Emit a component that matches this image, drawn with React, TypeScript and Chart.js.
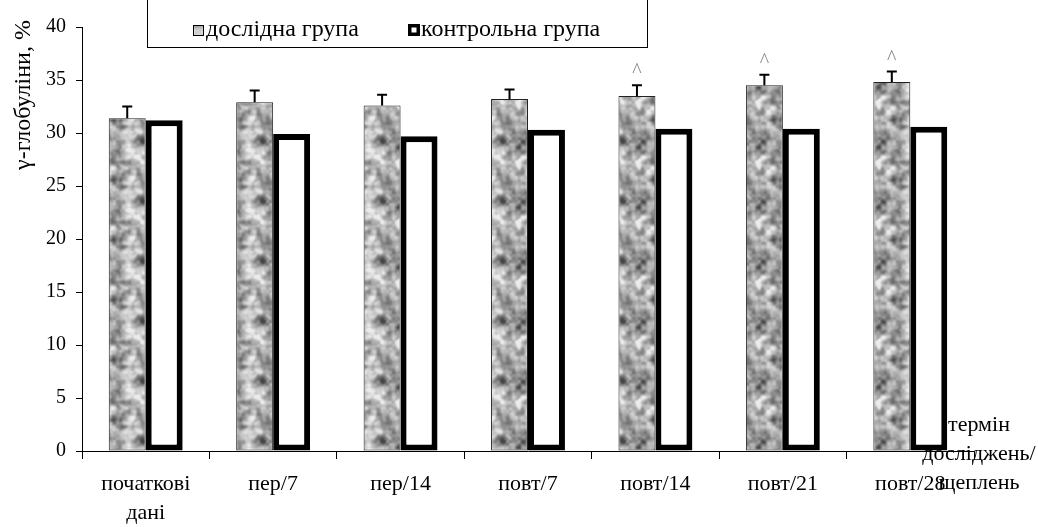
import React, { useEffect, useRef } from "react";
import { Chart, registerables } from "chart.js";

Chart.register(...registerables);

const categories: (string | string[])[] = [
  ["початкові", "дані"],
  "пер/7",
  "пер/14",
  "повт/7",
  "повт/14",
  "повт/21",
  "повт/28",
];
const experimental = [31.4, 32.9, 32.6, 33.2, 33.5, 34.5, 34.8];
const control = [31.2, 29.9, 29.7, 30.3, 30.4, 30.4, 30.6];
const errors = [1.1, 1.1, 1.0, 0.9, 1.0, 1.0, 1.0];
const markers = ["", "", "", "", "^", "^", "^"];
const seriesNames = ["дослідна група", "контрольна група"];
const yTitle = "γ-глобуліни, %";
const xTitleLines = ["термін", "досліджень/", "щеплень"];

const FONT = '"Liberation Serif", "Times New Roman", serif';

function hash(i: number, j: number): number {
  let h = (i * 374761393 + j * 668265263) | 0;
  h = (h ^ (h >>> 13)) | 0;
  h = Math.imul(h, 1274126177);
  h = h ^ (h >>> 16);
  return ((h >>> 0) % 10000) / 10000;
}

function valueNoise(x: number, y: number, cell: number, period: number): number {
  const n = period / cell;
  const gx = x / cell;
  const gy = y / cell;
  const x0 = Math.floor(gx);
  const y0 = Math.floor(gy);
  const fx = gx - x0;
  const fy = gy - y0;
  const sx = fx * fx * (3 - 2 * fx);
  const sy = fy * fy * (3 - 2 * fy);
  const h = (a: number, b: number) => hash(((a % n) + n) % n, ((b % n) + n) % n);
  const a = h(x0, y0);
  const b = h(x0 + 1, y0);
  const c = h(x0, y0 + 1);
  const d = h(x0 + 1, y0 + 1);
  return a + (b - a) * sx + (c - a) * sy + (a - b - c + d) * sx * sy;
}

function makePattern(): CanvasPattern | string {
  const size = 60;
  const cv = document.createElement("canvas");
  cv.width = size;
  cv.height = size;
  const c = cv.getContext("2d");
  if (!c) return "#aaaaaa";
  const img = c.createImageData(size, size);
  for (let y = 0; y < size; y++) {
    for (let x = 0; x < size; x++) {
      const n =
        0.5 * valueNoise(x, y, 10, size) +
        0.35 * valueNoise(x + 7, y + 3, 5, size) +
        0.15 * valueNoise(x, y, 3, size);
      const g = Math.max(70, Math.min(235, 168 + (n - 0.5) * 300));
      const k = (y * size + x) * 4;
      img.data[k] = g;
      img.data[k + 1] = g;
      img.data[k + 2] = g;
      img.data[k + 3] = 255;
    }
  }
  c.putImageData(img, 0, 0);
  const p = c.createPattern(cv, "repeat");
  return p || "#aaaaaa";
}

const extrasPlugin = {
  id: "extras",
  afterDatasetsDraw(chart: any) {
    const ctx = chart.ctx as CanvasRenderingContext2D;
    const y = chart.scales.y;
    const meta = chart.getDatasetMeta(0);
    ctx.save();
    meta.data.forEach((bar: any, i: number) => {
      const x = bar.x;
      const top = y.getPixelForValue(experimental[i]);
      const et = y.getPixelForValue(experimental[i] + errors[i]);
      ctx.strokeStyle = "#000";
      ctx.lineWidth = 2;
      ctx.beginPath();
      ctx.moveTo(x, top);
      ctx.lineTo(x, et);
      ctx.moveTo(x - 5, et);
      ctx.lineTo(x + 5, et);
      ctx.stroke();
      if (markers[i]) {
        ctx.fillStyle = "#8a8a8a";
        ctx.font = `20px ${FONT}`;
        ctx.textAlign = "center";
        ctx.textBaseline = "alphabetic";
        ctx.fillText(markers[i], x, et - 8);
      }
    });
    ctx.restore();
  },
  afterDraw(chart: any) {
    const ctx = chart.ctx as CanvasRenderingContext2D;
    ctx.save();
    // y title
    ctx.fillStyle = "#000";
    ctx.font = `24px ${FONT}`;
    ctx.textAlign = "center";
    ctx.textBaseline = "middle";
    ctx.translate(24, 95);
    ctx.rotate(-Math.PI / 2);
    ctx.fillText(yTitle, 0, 0);
    ctx.restore();

    ctx.save();
    // x title
    ctx.fillStyle = "#000";
    ctx.font = `22px ${FONT}`;
    ctx.textAlign = "center";
    ctx.textBaseline = "middle";
    xTitleLines.forEach((t, i) => ctx.fillText(t, 979, 425 + i * 29));

    // legend box
    ctx.strokeStyle = "#000";
    ctx.lineWidth = 1;
    ctx.strokeRect(147.5, -2, 500, 49.5);
    // item 1
    const pat = chart.data.datasets[0].backgroundColor;
    ctx.fillStyle = pat;
    ctx.fillRect(193, 25, 10, 10);
    ctx.strokeStyle = "#000";
    ctx.lineWidth = 1;
    ctx.strokeRect(193.5, 25.5, 10, 10);
    ctx.fillStyle = "#000";
    ctx.textAlign = "left";
    ctx.font = `24px ${FONT}`;
    ctx.fillText(seriesNames[0], 206, 30);
    // item 2
    ctx.fillStyle = "#000";
    ctx.fillRect(408, 24, 12, 12);
    ctx.fillStyle = "#fff";
    ctx.fillRect(411.5, 27.5, 5, 5);
    ctx.fillStyle = "#000";
    ctx.fillText(seriesNames[1], 421, 30);
    ctx.restore();
  },
};

export default function App() {
  const ref = useRef<HTMLCanvasElement | null>(null);
  useEffect(() => {
    document.body.style.margin = "0";
    if (!ref.current) return;
    const pattern = makePattern();
    const chart = new Chart(ref.current, {
      type: "bar",
      data: {
        labels: categories as any,
        datasets: [
          {
            label: seriesNames[0],
            data: experimental,
            backgroundColor: pattern as any,
            borderColor: "#222",
            borderWidth: 1,
            borderSkipped: false,
            categoryPercentage: 0.58,
            barPercentage: 1.0,
          },
          {
            label: seriesNames[1],
            data: control,
            backgroundColor: "#fff",
            borderColor: "#000",
            borderWidth: 6,
            borderSkipped: false,
            categoryPercentage: 0.58,
            barPercentage: 1.0,
          },
        ],
      },
      options: {
        responsive: false,
        animation: false,
        layout: { padding: { top: 27, right: 64, left: 0, bottom: 0 } },
        plugins: {
          legend: { display: false },
          tooltip: { enabled: false },
          title: { display: false },
        },
        scales: {
          x: {
            offset: true,
            grid: {
              display: true,
              offset: true,
              drawOnChartArea: false,
              drawTicks: true,
              tickLength: 8,
              color: "#000",
            },
            border: { display: true, color: "#000", width: 1 },
            ticks: {
              color: "#000",
              font: { family: FONT, size: 22, lineHeight: 1.35 },
              padding: 10,
              maxRotation: 0,
              autoSkip: false,
            },
            afterFit(scale: any) {
              scale.height = 76;
            },
          },
          y: {
            min: 0,
            max: 40,
            ticks: {
              stepSize: 5,
              color: "#000",
              font: { family: FONT, size: 20 },
              padding: 10,
            },
            grid: {
              display: true,
              drawOnChartArea: false,
              drawTicks: true,
              tickLength: 6,
              color: "#000",
            },
            border: { display: true, color: "#000", width: 1 },
            afterFit(scale: any) {
              scale.width = 82;
            },
          },
        },
      },
      plugins: [extrasPlugin],
    });
    return () => chart.destroy();
  }, []);
  return (
    <div style={{ width: 1038, height: 527, background: "#fff" }}>
      <canvas ref={ref} width={1038} height={527} style={{ display: "block" }} />
    </div>
  );
}
